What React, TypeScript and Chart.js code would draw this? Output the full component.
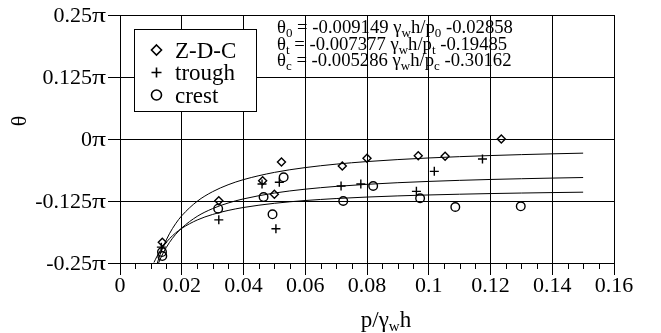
import { useEffect, useRef } from 'react';
import { Chart, registerables } from 'chart.js';
Chart.register(...registerables);

// ---- data (x = p/γwh, y = θ in units of π) ----
const zdcX = [0.0137, 0.032, 0.0462, 0.05, 0.0523, 0.072, 0.08, 0.0966, 0.1053, 0.1235];
const zdcY = [-0.208, -0.1244, -0.084, -0.1115, -0.0464, -0.0544, -0.0389, -0.0336, -0.0349, 0.0];
const troughX = [0.0134, 0.032, 0.046, 0.0505, 0.0516, 0.0716, 0.078, 0.096, 0.1018, 0.1174];
const troughY = [-0.218, -0.163, -0.0907, -0.181, -0.0873, -0.0948, -0.0907, -0.1055, -0.0652, -0.0403];
const crestX = [0.0136, 0.0137, 0.0318, 0.0465, 0.0494, 0.053, 0.0723, 0.082, 0.0972, 0.1086, 0.1298];
const crestY = [-0.228, -0.236, -0.1405, -0.117, -0.1518, -0.0772, -0.125, -0.0948, -0.1196, -0.1371, -0.1357];

// fitted curves
const fitX = [0.011, 0.012, 0.013, 0.014, 0.016, 0.018, 0.02, 0.025, 0.03, 0.035, 0.04, 0.05, 0.06, 0.07, 0.08, 0.09, 0.1, 0.11, 0.12, 0.13, 0.14, 0.15];
const fitZdc = [-0.27385, -0.25178, -0.23311, -0.21712, -0.19111, -0.17089, -0.15471, -0.12559, -0.10617, -0.0923, -0.0819, -0.06734, -0.05763, -0.0507, -0.0455, -0.04146, -0.03822, -0.03557, -0.03337, -0.0315, -0.0299, -0.02851];
const fitTrough = [-0.27549, -0.2577, -0.24265, -0.22975, -0.20878, -0.19248, -0.17943, -0.15595, -0.1403, -0.12911, -0.12073, -0.10899, -0.10116, -0.09557, -0.09137, -0.08811, -0.08551, -0.08337, -0.08159, -0.08009, -0.0788, -0.07768];
const fitCrest = [-0.24897, -0.23623, -0.22544, -0.2162, -0.20117, -0.18949, -0.18014, -0.16331, -0.1521, -0.14408, -0.13807, -0.12966, -0.12405, -0.12005, -0.11704, -0.1147, -0.11283, -0.1113, -0.11003, -0.10895, -0.10803, -0.10723];

const xTicks = [0, 0.02, 0.04, 0.06, 0.08, 0.1, 0.12, 0.14, 0.16];
const xTickLabels = ['0', '0.02', '0.04', '0.06', '0.08', '0.1', '0.12', '0.14', '0.16'];
const xMinorStep = 0.005;
const yTicks = [-0.25, -0.125, 0, 0.125, 0.25];
const yTickLabels = ['-0.25π', '-0.125π', '0π', '0.125π', '0.25π'];

const legendNames = ['Z-D-C', 'trough', 'crest'];
const legendStyles = ['rectRot', 'cross', 'circle'];
const eqSubs = ['0', 't', 'c'];
const eqA = ['-0.009149', '-0.007377', '-0.005286'];
const eqB = ['-0.02858', '-0.19485', '-0.30162'];

const FONT = "'Liberation Serif', 'Times New Roman', serif";
const TICK_SIZE = 22;

type Part = [string, boolean];

function drawRich(ctx: CanvasRenderingContext2D, parts: Part[], x: number, y: number, size: number, subSize: number, subDy: number) {
  let cx = x;
  for (const [t, sub] of parts) {
    ctx.font = `${sub ? subSize : size}px ${FONT}`;
    ctx.fillText(t, cx, sub ? y + subDy : y);
    cx += ctx.measureText(t).width;
  }
  return cx;
}

function richWidth(ctx: CanvasRenderingContext2D, parts: Part[], size: number, subSize: number) {
  let w = 0;
  for (const [t, sub] of parts) {
    ctx.font = `${sub ? subSize : size}px ${FONT}`;
    w += ctx.measureText(t).width;
  }
  return w;
}

function drawMarker(ctx: CanvasRenderingContext2D, style: string, x: number, y: number, r: number) {
  ctx.beginPath();
  if (style === 'rectRot') {
    ctx.moveTo(x, y - r); ctx.lineTo(x + r, y); ctx.lineTo(x, y + r); ctx.lineTo(x - r, y); ctx.closePath();
  } else if (style === 'cross') {
    ctx.moveTo(x - r, y); ctx.lineTo(x + r, y); ctx.moveTo(x, y - r); ctx.lineTo(x, y + r);
  } else {
    ctx.arc(x, y, r, 0, Math.PI * 2);
  }
  ctx.stroke();
}

const decorPlugin = {
  id: 'decor',
  afterDraw(chart: any) {
    const ctx: CanvasRenderingContext2D = chart.ctx;
    const xs = chart.scales.x;
    const ys = chart.scales.y;
    const area = chart.chartArea;
    ctx.save();
    // minor ticks on x axis
    ctx.strokeStyle = '#000';
    ctx.lineWidth = 1;
    const n = Math.round((xs.max - xs.min) / xMinorStep);
    for (let i = 0; i <= n; i++) {
      const v = xs.min + i * xMinorStep;
      if (i % 4 === 0) continue;
      const px = Math.round(xs.getPixelForValue(v)) + 0.5;
      ctx.beginPath();
      ctx.moveTo(px, area.bottom);
      ctx.lineTo(px, area.bottom + 6);
      ctx.stroke();
    }

    ctx.fillStyle = '#000';
    ctx.textBaseline = 'alphabetic';
    ctx.textAlign = 'left';

    // y tick labels (π drawn slightly wider, as in the original)
    for (let i = 0; i < yTicks.length; i++) {
      const py = ys.getPixelForValue(yTicks[i]);
      const lab = yTickLabels[i];
      const num = lab.slice(0, -1);
      const pi = lab.slice(-1);
      ctx.font = `${TICK_SIZE}px ${FONT}`;
      ctx.textBaseline = 'middle';
      const piW = ctx.measureText(pi).width;
      const piTarget = 14;
      const right = 106;
      ctx.save();
      ctx.translate(right - piTarget, py);
      ctx.scale(piTarget / piW, 1);
      ctx.textAlign = 'left';
      ctx.fillText(pi, 0, 1);
      ctx.restore();
      ctx.textAlign = 'right';
      ctx.fillText(num, right - piTarget, py + 1);
    }
    ctx.textBaseline = 'alphabetic';
    ctx.textAlign = 'left';

    // equations
    for (let i = 0; i < 3; i++) {
      const parts: Part[] = [
        ['θ', false], [eqSubs[i], true], [' = ' + eqA[i] + ' γ', false], ['w', true],
        ['h/p', false], [eqSubs[i], true], [' ' + eqB[i], false],
      ];
      drawRich(ctx, parts, 277, 33 + i * 16.5, 18.7, 13, 4);
    }

    // legend
    const lx = 134.5, ly = 29.5, lw = 122, lh = 82;
    ctx.fillStyle = '#fff';
    ctx.fillRect(lx, ly, lw, lh);
    ctx.strokeStyle = '#000';
    ctx.lineWidth = 1;
    ctx.strokeRect(lx, ly, lw, lh);
    ctx.fillStyle = '#000';
    for (let i = 0; i < 3; i++) {
      const cy = 50 + i * 22.5;
      ctx.lineWidth = 1.6;
      ctx.strokeStyle = '#000';
      drawMarker(ctx, legendStyles[i], 156.5, cy, 5);
      ctx.font = `23px ${FONT}`;
      ctx.fillText(legendNames[i], 175, cy + 7.5);
    }

    // x title
    const xt: Part[] = [['p/γ', false], ['w', true], ['h', false]];
    const w = richWidth(ctx, xt, 23, 15);
    drawRich(ctx, xt, 386 - w / 2, 327, 23, 15, 4);

    // y title
    ctx.save();
    ctx.translate(26, 121);
    ctx.rotate(-Math.PI / 2);
    ctx.textAlign = 'center';
    ctx.font = `22px ${FONT}`;
    ctx.fillText('θ', 0, 0);
    ctx.restore();

    ctx.restore();
  },
};

function pts(xs: number[], ys: number[]) {
  return xs.map((x, i) => ({ x, y: ys[i] }));
}

export default function App() {
  const ref = useRef<HTMLCanvasElement>(null);
  useEffect(() => {
    const canvas = ref.current!;
    const scatterBase = {
      type: 'scatter' as const,
      showLine: false,
      borderColor: '#000',
      backgroundColor: 'rgba(0,0,0,0)',
      borderWidth: 1.4,
      pointHoverRadius: 4,
    };
    const lineBase = {
      type: 'line' as const,
      borderColor: '#000',
      borderWidth: 1,
      pointRadius: 0,
      fill: false,
      cubicInterpolationMode: 'monotone' as const,
    };
    const chart = new Chart(canvas, {
      data: {
        datasets: [
          { ...lineBase, data: pts(fitX, fitZdc) },
          { ...lineBase, data: pts(fitX, fitTrough) },
          { ...lineBase, data: pts(fitX, fitCrest) },
          { ...scatterBase, data: pts(zdcX, zdcY), pointStyle: 'rectRot', pointRadius: 4 },
          { ...scatterBase, data: pts(troughX, troughY), pointStyle: 'cross', pointRadius: 4.5 },
          { ...scatterBase, data: pts(crestX, crestY), pointStyle: 'circle', pointRadius: 4.3 },
        ],
      } as any,
      options: {
        responsive: false,
        animation: false,
        layout: { padding: { top: 15, right: 47, left: 0, bottom: 0 } },
        plugins: { legend: { display: false }, tooltip: { enabled: false } },
        scales: {
          x: {
            type: 'linear',
            min: 0,
            max: 0.16,
            afterBuildTicks: (s: any) => { s.ticks = xTicks.map((v) => ({ value: v })); },
            afterFit: (s: any) => { s.height = 70; },
            ticks: {
              color: '#000',
              font: { family: FONT, size: TICK_SIZE },
              padding: -2,
              maxRotation: 0,
              callback: (v: any) => xTickLabels[xTicks.findIndex((t) => Math.abs(t - v) < 1e-9)] ?? '',
            },
            grid: { color: '#000', lineWidth: 1, tickLength: 12, tickColor: '#000' },
            border: { color: '#000', width: 1 },
          },
          y: {
            type: 'linear',
            min: -0.25,
            max: 0.25,
            afterBuildTicks: (s: any) => { s.ticks = yTicks.map((v) => ({ value: v })); },
            afterFit: (s: any) => { s.width = 120; },
            ticks: { display: false },
            grid: { color: '#000', lineWidth: 1, tickLength: 12, tickColor: '#000' },
            border: { color: '#000', width: 1 },
          },
        },
      } as any,
      plugins: [decorPlugin],
    });
    return () => chart.destroy();
  }, []);
  return (
    <div style={{ position: 'fixed', left: 0, top: 0, width: 661, height: 333, background: '#fff' }}>
      <canvas ref={ref} width={661} height={333} style={{ display: 'block' }} />
    </div>
  );
}
